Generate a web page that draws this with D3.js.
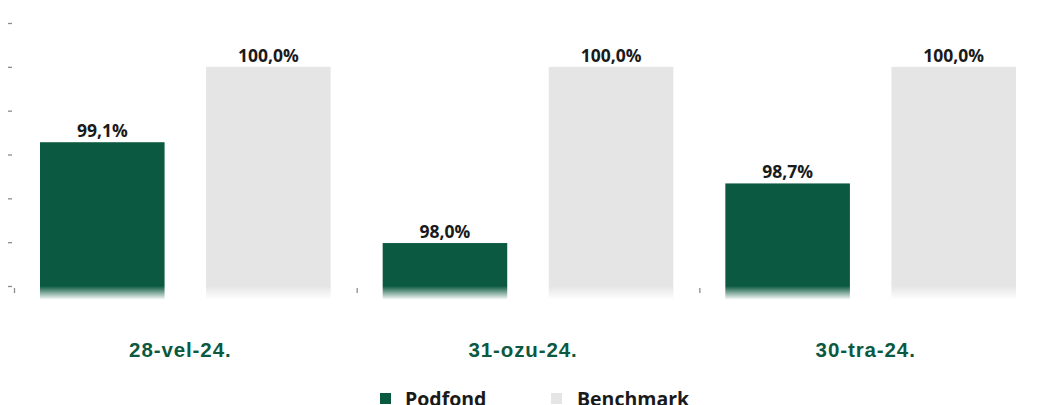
<!DOCTYPE html>
<html>
<head>
<meta charset="utf-8">
<script src="https://cdn.jsdelivr.net/npm/d3@7"></script>
<style>
  body { margin: 0; background: #fff; }
  svg { display: block; }
</style>
</head>
<body>
<div id="chart"></div>
<script>
const categories = ["28-vel-24.", "31-ozu-24.", "30-tra-24."];
const podfond = [99.14, 97.99, 98.67];
const benchmark = [100.0, 100.0, 100.0];
const seriesNames = ["Podfond", "Benchmark"];
const yTicks = [97.5, 98.0, 98.5, 99.0, 99.5, 100.0, 100.5];

const W = 1038, H = 405;
const colors = { Podfond: "#0b5940", Benchmark: "#e5e5e5" };

const svg = d3.select("#chart").append("svg")
  .attr("width", W).attr("height", H);

const x = d3.scaleBand().domain(categories).range([14, 1042]).paddingInner(0).paddingOuter(0);
const xs = d3.scaleBand().domain(seriesNames).range([26, x.bandwidth() - 26]).paddingInner(0.25);
const y = d3.scaleLinear().domain([97.5, 100.5]).range([286, 23]);
const bottom = y(97.35);

// gradients for faded bar bottoms
const defs = svg.append("defs");
seriesNames.forEach(s => {
  const g = defs.append("linearGradient")
    .attr("id", "grad-" + s)
    .attr("gradientUnits", "userSpaceOnUse")
    .attr("x1", 0).attr("x2", 0)
    .attr("y1", y(97.5)).attr("y2", bottom);
  g.append("stop").attr("offset", 0).attr("stop-color", colors[s]).attr("stop-opacity", 1);
  g.append("stop").attr("offset", 1).attr("stop-color", colors[s]).attr("stop-opacity", 0.05);
});

// y axis ticks (no labels)
svg.append("g")
  .attr("transform", "translate(12,0)")
  .call(d3.axisLeft(y).tickValues(yTicks).tickSize(4).tickFormat(""))
  .call(g => g.select(".domain").remove())
  .call(g => g.selectAll(".tick line").attr("stroke", "#8c8c8c").attr("stroke-width", 1.3));

// category separator ticks
svg.append("g")
  .selectAll("line")
  .data(categories)
  .join("line")
  .attr("x1", d => x(d) + 0.5).attr("x2", d => x(d) + 0.5)
  .attr("y1", 288).attr("y2", 293)
  .attr("stroke", "#8c8c8c").attr("stroke-width", 1.3);

const rows = categories.map((c, i) => ({ cat: c, Podfond: podfond[i], Benchmark: benchmark[i] }));
const fmt = v => d3.format(".1f")(v).replace(".", ",") + "%";

const groups = svg.append("g").selectAll("g")
  .data(rows)
  .join("g")
  .attr("transform", d => `translate(${x(d.cat)},0)`);

groups.selectAll("rect")
  .data(d => seriesNames.map(s => ({ s, v: d[s] })))
  .join("rect")
  .attr("x", d => xs(d.s))
  .attr("y", d => y(d.v))
  .attr("width", xs.bandwidth())
  .attr("height", d => bottom - y(d.v))
  .attr("fill", d => `url(#grad-${d.s})`);

groups.selectAll("text.val")
  .data(d => seriesNames.map(s => ({ s, v: d[s] })))
  .join("text")
  .attr("class", "val")
  .attr("x", d => xs(d.s) + xs.bandwidth() / 2)
  .attr("y", d => y(d.v) - 5)
  .attr("text-anchor", "middle")
  .attr("font-family", "'Open Sans', sans-serif")
  .attr("font-weight", 700)
  .attr("font-size", "17.5px")
  .attr("fill", "#1a1a1a")
  .text(d => fmt(d.v));

// category labels
svg.append("g").selectAll("text")
  .data(categories)
  .join("text")
  .attr("x", d => x(d) + x.bandwidth() / 2 - 5)
  .attr("y", 357)
  .attr("text-anchor", "middle")
  .attr("font-family", "'Liberation Sans', Arial, sans-serif")
  .attr("font-weight", 700)
  .attr("font-size", "20.5px")
  .attr("letter-spacing", "0.9px")
  .attr("fill", "#0b5940")
  .text(d => d);

// legend
const legendX = [380, 551];
const legend = svg.append("g").selectAll("g")
  .data(seriesNames)
  .join("g")
  .attr("transform", (d, i) => `translate(${legendX[i]},0)`);

legend.append("rect")
  .attr("x", 0).attr("y", 393)
  .attr("width", 11).attr("height", 11)
  .attr("fill", d => colors[d]);

legend.append("text")
  .attr("x", d => d === "Podfond" ? 25 : 26)
  .attr("y", 405.5)
  .attr("font-family", "'Open Sans', sans-serif")
  .attr("font-weight", 700)
  .attr("font-size", "19.5px")
  .attr("fill", "#1a1a1a")
  .text(d => d);
</script>
</body>
</html>
